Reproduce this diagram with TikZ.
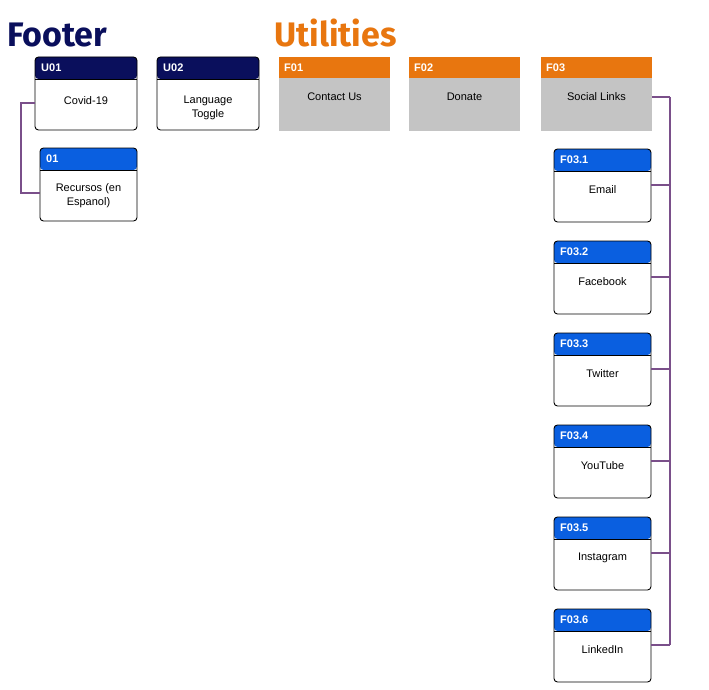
\documentclass[tikz,border=0pt]{standalone}
\usepackage{fontspec}
\setmainfont{Liberation Sans}
\newfontfamily\titlefont{Fira Sans}
\definecolor{navy}{HTML}{0A0F5C}
\definecolor{bluehd}{HTML}{0A5FE0}
\definecolor{orng}{HTML}{E8760F}
\definecolor{greybox}{HTML}{C4C4C4}
\definecolor{purp}{HTML}{7A4F8A}
\begin{document}
\begin{tikzpicture}[x=1pt,y=-1pt,
  card/.style={draw=black, line width=0.9pt, rounded corners=3.5pt, fill=white,
    minimum width=#1, minimum height=73pt, anchor=north west, inner sep=0pt, outer sep=0pt},
  hdr/.style={path picture={\fill[#1] (path picture bounding box.north west) rectangle ([yshift=-22pt]path picture bounding box.north east);
    \draw[line width=0.9pt] ([yshift=-22pt]path picture bounding box.north west) -- ([yshift=-22pt]path picture bounding box.north east);}},
  util/.style={fill=greybox, minimum width=111pt, minimum height=74pt, anchor=north west, inner sep=0pt, outer sep=0pt,
    path picture={\fill[orng] (path picture bounding box.north west) rectangle ([yshift=-21pt]path picture bounding box.north east);}},
  hdrtext/.style={text=white, font=\bfseries\fontsize{11}{12}\selectfont, anchor=west, inner sep=0pt},
  bodytext/.style={font=\fontsize{11}{14}\selectfont, align=center, inner sep=0pt},
  title/.style={font=\titlefont\bfseries\fontsize{34}{40}\selectfont, anchor=base west, inner sep=0pt},
  conn/.style={draw=purp, line width=1.5pt}
]
\useasboundingbox (0,0) rectangle (709,690);
\fill[white] (0,0) rectangle (709,690);

\node[title, text=navy] (tfooter) at (7,47) {Footer};
\node[title, text=orng] (tutil) at (274,47) {Utilities};

% Footer cards
\node[card=102pt, hdr=navy] (u01) at (35,57) {};
\node[hdrtext] (u01h) at ([xshift=6pt,yshift=-11pt]u01.north west) {U01};
\node[bodytext] (u01t) at ([yshift=-44pt]u01.north) {Covid-19};

\node[card=102pt, hdr=navy] (u02) at (157,57) {};
\node[hdrtext] (u02h) at ([xshift=6pt,yshift=-11pt]u02.north west) {U02};
\node[bodytext] (u02t) at ([yshift=-51pt]u02.north) {Language\\Toggle};

\node[card=97pt, hdr=bluehd] (c01) at (40,148) {};
\node[hdrtext] (c01h) at ([xshift=6pt,yshift=-11pt]c01.north west) {01};
\node[bodytext] (c01t) at ([yshift=-48pt]c01.north) {Recursos (en\\Espanol)};

\coordinate (u01p) at ([yshift=-46pt]u01.north west);
\coordinate (c01p) at ([yshift=-45pt]c01.north west);
\draw[conn] (u01p) -- ++(-14,0) |- (c01p);

% Utilities
\node[util] (f01) at (279,57) {};
\node[hdrtext] (f01h) at ([xshift=5pt,yshift=-11pt]f01.north west) {F01};
\node[bodytext] (f01t) at ([yshift=-40pt]f01.north) {Contact Us};

\node[util] (f02) at (409,57) {};
\node[hdrtext] (f02h) at ([xshift=5pt,yshift=-11pt]f02.north west) {F02};
\node[bodytext] (f02t) at ([yshift=-40pt]f02.north) {Donate};

\node[util] (f03) at (541,57) {};
\node[hdrtext] (f03h) at ([xshift=5pt,yshift=-11pt]f03.north west) {F03};
\node[bodytext] (f03t) at ([yshift=-40pt]f03.north) {Social Links};

\coordinate (bus) at (670,97);
\draw[conn] (f03.east |- f03t) -- (bus);

\foreach \i/\lab [count=\k from 0] in {1/Email,2/Facebook,3/Twitter,4/YouTube,5/Instagram,6/LinkedIn}{
  \node[card=97pt, hdr=bluehd] (s\i) at (554,149+92*\k) {};
  \node[hdrtext] (s\i h) at ([xshift=6pt,yshift=-11pt]s\i.north west) {F03.\i};
  \node[bodytext] (s\i t) at ([yshift=-41pt]s\i.north) {\lab};
  \coordinate (s\i p) at ([yshift=-36pt]s\i.north east);
  \draw[conn] (s\i p) -- (bus |- s\i p);
}
\draw[conn] (bus) -- (bus |- s6p);
\end{tikzpicture}
\end{document}
